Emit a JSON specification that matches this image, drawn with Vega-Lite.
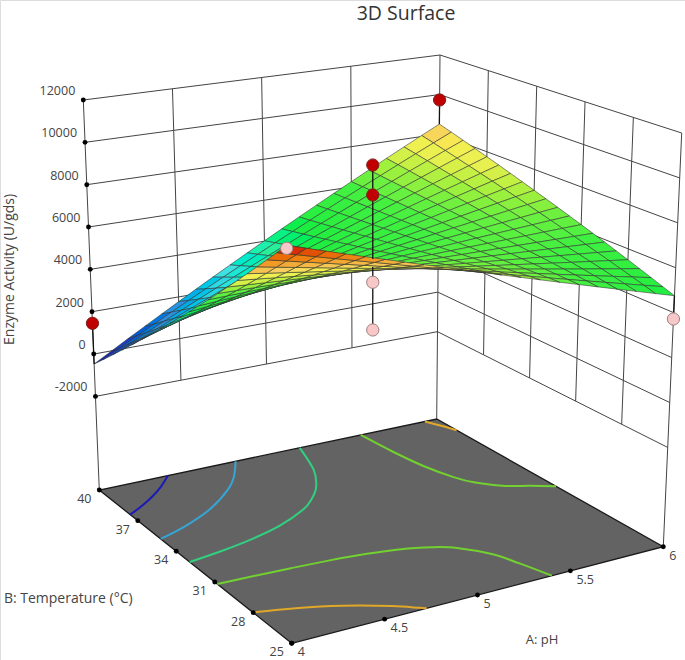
{"$schema":"https://vega.github.io/schema/vega-lite/v6.json","width":685,"height":660,"padding":0,"autosize":{"type":"none"},"background":"white",
"datasets":{"surface":[
{"node":2020,"activity":8507},{"node":2019,"activity":8319},{"node":2018,"activity":8132},{"node":2017,"activity":7944},{"node":2016,"activity":7757},{"node":2015,"activity":7569},{"node":2014,"activity":7381},{"node":2013,"activity":7194},{"node":2012,"activity":7006},{"node":2011,"activity":6819},{"node":2010,"activity":6631},{"node":2009,"activity":6443},{"node":2008,"activity":6256},{"node":2007,"activity":6068},{"node":2006,"activity":5881},{"node":2005,"activity":5693},{"node":2004,"activity":5505},{"node":2003,"activity":5318},{"node":2002,"activity":5130},{"node":2001,"activity":4943},{"node":2000,"activity":4755},
{"node":1920,"activity":8058},{"node":1919,"activity":7907},{"node":1918,"activity":7755},{"node":1917,"activity":7604},{"node":1916,"activity":7452},{"node":1915,"activity":7301},{"node":1914,"activity":7150},{"node":1913,"activity":6998},{"node":1912,"activity":6847},{"node":1911,"activity":6695},{"node":1910,"activity":6544},{"node":1909,"activity":6393},{"node":1908,"activity":6241},{"node":1907,"activity":6090},{"node":1906,"activity":5938},{"node":1905,"activity":5787},{"node":1904,"activity":5636},{"node":1903,"activity":5484},{"node":1902,"activity":5333},{"node":1901,"activity":5181},{"node":1900,"activity":5030},
{"node":1820,"activity":7609},{"node":1819,"activity":7494},{"node":1818,"activity":7379},{"node":1817,"activity":7263},{"node":1816,"activity":7148},{"node":1815,"activity":7033},{"node":1814,"activity":6918},{"node":1813,"activity":6803},{"node":1812,"activity":6687},{"node":1811,"activity":6572},{"node":1810,"activity":6457},{"node":1809,"activity":6342},{"node":1808,"activity":6227},{"node":1807,"activity":6111},{"node":1806,"activity":5996},{"node":1805,"activity":5881},{"node":1804,"activity":5766},{"node":1803,"activity":5651},{"node":1802,"activity":5535},{"node":1801,"activity":5420},{"node":1800,"activity":5305},
{"node":1720,"activity":7161},{"node":1719,"activity":7082},{"node":1718,"activity":7003},{"node":1717,"activity":6924},{"node":1716,"activity":6845},{"node":1715,"activity":6766},{"node":1714,"activity":6686},{"node":1713,"activity":6607},{"node":1712,"activity":6528},{"node":1711,"activity":6449},{"node":1710,"activity":6370},{"node":1709,"activity":6291},{"node":1708,"activity":6212},{"node":1707,"activity":6133},{"node":1706,"activity":6054},{"node":1705,"activity":5975},{"node":1704,"activity":5895},{"node":1703,"activity":5816},{"node":1702,"activity":5737},{"node":1701,"activity":5658},{"node":1700,"activity":5579},
{"node":1620,"activity":6712},{"node":1619,"activity":6669},{"node":1618,"activity":6626},{"node":1617,"activity":6583},{"node":1616,"activity":6540},{"node":1615,"activity":6498},{"node":1614,"activity":6455},{"node":1613,"activity":6412},{"node":1612,"activity":6369},{"node":1611,"activity":6326},{"node":1610,"activity":6283},{"node":1609,"activity":6240},{"node":1608,"activity":6197},{"node":1607,"activity":6154},{"node":1606,"activity":6111},{"node":1605,"activity":6069},{"node":1604,"activity":6026},{"node":1603,"activity":5983},{"node":1602,"activity":5940},{"node":1601,"activity":5897},{"node":1600,"activity":5854},
{"node":1520,"activity":6263},{"node":1519,"activity":6257},{"node":1518,"activity":6250},{"node":1517,"activity":6243},{"node":1516,"activity":6236},{"node":1515,"activity":6230},{"node":1514,"activity":6223},{"node":1513,"activity":6216},{"node":1512,"activity":6210},{"node":1511,"activity":6203},{"node":1510,"activity":6196},{"node":1509,"activity":6190},{"node":1508,"activity":6183},{"node":1507,"activity":6176},{"node":1506,"activity":6169},{"node":1505,"activity":6163},{"node":1504,"activity":6156},{"node":1503,"activity":6149},{"node":1502,"activity":6142},{"node":1501,"activity":6136},{"node":1500,"activity":6129},
{"node":1420,"activity":5814},{"node":1419,"activity":5844},{"node":1418,"activity":5873},{"node":1417,"activity":5903},{"node":1416,"activity":5932},{"node":1415,"activity":5962},{"node":1414,"activity":5991},{"node":1413,"activity":6021},{"node":1412,"activity":6050},{"node":1411,"activity":6080},{"node":1410,"activity":6109},{"node":1409,"activity":6139},{"node":1408,"activity":6168},{"node":1407,"activity":6198},{"node":1406,"activity":6227},{"node":1405,"activity":6257},{"node":1404,"activity":6286},{"node":1403,"activity":6316},{"node":1402,"activity":6345},{"node":1401,"activity":6375},{"node":1400,"activity":6404},
{"node":1320,"activity":5365},{"node":1319,"activity":5430},{"node":1318,"activity":5496},{"node":1317,"activity":5561},{"node":1316,"activity":5627},{"node":1315,"activity":5693},{"node":1314,"activity":5759},{"node":1313,"activity":5824},{"node":1312,"activity":5890},{"node":1311,"activity":5956},{"node":1310,"activity":6022},{"node":1309,"activity":6087},{"node":1308,"activity":6153},{"node":1307,"activity":6218},{"node":1306,"activity":6284},{"node":1305,"activity":6350},{"node":1304,"activity":6416},{"node":1303,"activity":6481},{"node":1302,"activity":6547},{"node":1301,"activity":6613},{"node":1300,"activity":6679},
{"node":1220,"activity":4917},{"node":1219,"activity":5019},{"node":1218,"activity":5121},{"node":1217,"activity":5222},{"node":1216,"activity":5324},{"node":1215,"activity":5426},{"node":1214,"activity":5528},{"node":1213,"activity":5630},{"node":1212,"activity":5731},{"node":1211,"activity":5833},{"node":1210,"activity":5935},{"node":1209,"activity":6037},{"node":1208,"activity":6139},{"node":1207,"activity":6240},{"node":1206,"activity":6342},{"node":1205,"activity":6444},{"node":1204,"activity":6546},{"node":1203,"activity":6648},{"node":1202,"activity":6749},{"node":1201,"activity":6851},{"node":1200,"activity":6953},
{"node":1120,"activity":4468},{"node":1119,"activity":4606},{"node":1118,"activity":4744},{"node":1117,"activity":4882},{"node":1116,"activity":5020},{"node":1115,"activity":5158},{"node":1114,"activity":5296},{"node":1113,"activity":5434},{"node":1112,"activity":5572},{"node":1111,"activity":5710},{"node":1110,"activity":5848},{"node":1109,"activity":5986},{"node":1108,"activity":6124},{"node":1107,"activity":6262},{"node":1106,"activity":6400},{"node":1105,"activity":6538},{"node":1104,"activity":6676},{"node":1103,"activity":6814},{"node":1102,"activity":6952},{"node":1101,"activity":7090},{"node":1100,"activity":7228},
{"node":1020,"activity":4019},{"node":1019,"activity":4193},{"node":1018,"activity":4367},{"node":1017,"activity":4542},{"node":1016,"activity":4716},{"node":1015,"activity":4890},{"node":1014,"activity":5064},{"node":1013,"activity":5238},{"node":1012,"activity":5413},{"node":1011,"activity":5587},{"node":1010,"activity":5761},{"node":1009,"activity":5935},{"node":1008,"activity":6109},{"node":1007,"activity":6284},{"node":1006,"activity":6458},{"node":1005,"activity":6632},{"node":1004,"activity":6806},{"node":1003,"activity":6980},{"node":1002,"activity":7155},{"node":1001,"activity":7329},{"node":1000,"activity":7503},
{"node":920,"activity":3570},{"node":919,"activity":3780},{"node":918,"activity":3991},{"node":917,"activity":4201},{"node":916,"activity":4412},{"node":915,"activity":4622},{"node":914,"activity":4832},{"node":913,"activity":5043},{"node":912,"activity":5253},{"node":911,"activity":5464},{"node":910,"activity":5674},{"node":909,"activity":5884},{"node":908,"activity":6095},{"node":907,"activity":6305},{"node":906,"activity":6516},{"node":905,"activity":6726},{"node":904,"activity":6936},{"node":903,"activity":7147},{"node":902,"activity":7357},{"node":901,"activity":7568},{"node":900,"activity":7778},
{"node":820,"activity":3121},{"node":819,"activity":3368},{"node":818,"activity":3614},{"node":817,"activity":3861},{"node":816,"activity":4107},{"node":815,"activity":4354},{"node":814,"activity":4601},{"node":813,"activity":4847},{"node":812,"activity":5094},{"node":811,"activity":5340},{"node":810,"activity":5587},{"node":809,"activity":5834},{"node":808,"activity":6080},{"node":807,"activity":6327},{"node":806,"activity":6573},{"node":805,"activity":6820},{"node":804,"activity":7067},{"node":803,"activity":7313},{"node":802,"activity":7560},{"node":801,"activity":7806},{"node":800,"activity":8053},
{"node":720,"activity":2673},{"node":719,"activity":2956},{"node":718,"activity":3239},{"node":717,"activity":3521},{"node":716,"activity":3804},{"node":715,"activity":4087},{"node":714,"activity":4369},{"node":713,"activity":4652},{"node":712,"activity":4935},{"node":711,"activity":5217},{"node":710,"activity":5500},{"node":709,"activity":5783},{"node":708,"activity":6066},{"node":707,"activity":6348},{"node":706,"activity":6631},{"node":705,"activity":6914},{"node":704,"activity":7196},{"node":703,"activity":7479},{"node":702,"activity":7762},{"node":701,"activity":8044},{"node":700,"activity":8327},
{"node":620,"activity":2224},{"node":619,"activity":2543},{"node":618,"activity":2862},{"node":617,"activity":3181},{"node":616,"activity":3500},{"node":615,"activity":3819},{"node":614,"activity":4137},{"node":613,"activity":4456},{"node":612,"activity":4775},{"node":611,"activity":5094},{"node":610,"activity":5413},{"node":609,"activity":5732},{"node":608,"activity":6051},{"node":607,"activity":6370},{"node":606,"activity":6689},{"node":605,"activity":7008},{"node":604,"activity":7326},{"node":603,"activity":7645},{"node":602,"activity":7964},{"node":601,"activity":8283},{"node":600,"activity":8602},
{"node":520,"activity":1775},{"node":519,"activity":2130},{"node":518,"activity":2485},{"node":517,"activity":2840},{"node":516,"activity":3195},{"node":515,"activity":3551},{"node":514,"activity":3906},{"node":513,"activity":4261},{"node":512,"activity":4616},{"node":511,"activity":4971},{"node":510,"activity":5326},{"node":509,"activity":5681},{"node":508,"activity":6036},{"node":507,"activity":6391},{"node":506,"activity":6746},{"node":505,"activity":7102},{"node":504,"activity":7457},{"node":503,"activity":7812},{"node":502,"activity":8167},{"node":501,"activity":8522},{"node":500,"activity":8877},
{"node":420,"activity":1326},{"node":419,"activity":1718},{"node":418,"activity":2109},{"node":417,"activity":2500},{"node":416,"activity":2891},{"node":415,"activity":3283},{"node":414,"activity":3674},{"node":413,"activity":4065},{"node":412,"activity":4457},{"node":411,"activity":4848},{"node":410,"activity":5239},{"node":409,"activity":5630},{"node":408,"activity":6022},{"node":407,"activity":6413},{"node":406,"activity":6804},{"node":405,"activity":7196},{"node":404,"activity":7587},{"node":403,"activity":7978},{"node":402,"activity":8369},{"node":401,"activity":8761},{"node":400,"activity":9152},
{"node":320,"activity":877},{"node":319,"activity":1305},{"node":318,"activity":1732},{"node":317,"activity":2160},{"node":316,"activity":2587},{"node":315,"activity":3015},{"node":314,"activity":3442},{"node":313,"activity":3870},{"node":312,"activity":4297},{"node":311,"activity":4725},{"node":310,"activity":5152},{"node":309,"activity":5579},{"node":308,"activity":6007},{"node":307,"activity":6434},{"node":306,"activity":6862},{"node":305,"activity":7289},{"node":304,"activity":7717},{"node":303,"activity":8144},{"node":302,"activity":8572},{"node":301,"activity":8999},{"node":300,"activity":9427},
{"node":220,"activity":429},{"node":219,"activity":893},{"node":218,"activity":1356},{"node":217,"activity":1820},{"node":216,"activity":2283},{"node":215,"activity":2747},{"node":214,"activity":3211},{"node":213,"activity":3674},{"node":212,"activity":4138},{"node":211,"activity":4601},{"node":210,"activity":5065},{"node":209,"activity":5529},{"node":208,"activity":5992},{"node":207,"activity":6456},{"node":206,"activity":6919},{"node":205,"activity":7383},{"node":204,"activity":7847},{"node":203,"activity":8310},{"node":202,"activity":8774},{"node":201,"activity":9237},{"node":200,"activity":9701},
{"node":120,"activity":-20},{"node":119,"activity":480},{"node":118,"activity":979},{"node":117,"activity":1479},{"node":116,"activity":1979},{"node":115,"activity":2479},{"node":114,"activity":2979},{"node":113,"activity":3479},{"node":112,"activity":3978},{"node":111,"activity":4478},{"node":110,"activity":4978},{"node":109,"activity":5478},{"node":108,"activity":5977},{"node":107,"activity":6477},{"node":106,"activity":6977},{"node":105,"activity":7477},{"node":104,"activity":7977},{"node":103,"activity":8477},{"node":102,"activity":8976},{"node":101,"activity":9476},{"node":100,"activity":9976},
{"node":20,"activity":-469},{"node":19,"activity":67},{"node":18,"activity":603},{"node":17,"activity":1139},{"node":16,"activity":1675},{"node":15,"activity":2211},{"node":14,"activity":2747},{"node":13,"activity":3283},{"node":12,"activity":3819},{"node":11,"activity":4355},{"node":10,"activity":4891},{"node":9,"activity":5427},{"node":8,"activity":5963},{"node":7,"activity":6499},{"node":6,"activity":7035},{"node":5,"activity":7571},{"node":4,"activity":8107},{"node":3,"activity":8643},{"node":2,"activity":9179},{"node":1,"activity":9715},{"node":0,"activity":10251}
]},
"data":{"values":[
{"kind":"floor","pH":4,"temp":25,"activity":-6421},{"kind":"floor","pH":6,"temp":25,"activity":-6421},{"kind":"floor","pH":6,"temp":40,"activity":-6421},{"kind":"floor","pH":4,"temp":40,"activity":-6421},{"kind":"floor","pH":4,"temp":25,"activity":-6421},
{"kind":"contour","line":"blue","level":"1250","pH":4,"temp":37.59,"activity":-6421},{"kind":"contour","line":"blue","level":"1250","pH":4.1,"temp":38.05,"activity":-6421},{"kind":"contour","line":"blue","level":"1250","pH":4.2,"temp":38.58,"activity":-6421},{"kind":"contour","line":"blue","level":"1250","pH":4.3,"temp":39.2,"activity":-6421},{"kind":"contour","line":"blue","level":"1250","pH":4.407,"temp":40,"activity":-6421},
{"kind":"contour","line":"cyan","level":"3000","pH":4,"temp":35.21,"activity":-6421},{"kind":"contour","line":"cyan","level":"3000","pH":4.2,"temp":35.83,"activity":-6421},{"kind":"contour","line":"cyan","level":"3000","pH":4.4,"temp":36.69,"activity":-6421},{"kind":"contour","line":"cyan","level":"3000","pH":4.6,"temp":37.93,"activity":-6421},{"kind":"contour","line":"cyan","level":"3000","pH":4.7,"temp":38.79,"activity":-6421},{"kind":"contour","line":"cyan","level":"3000","pH":4.808,"temp":40,"activity":-6421},
{"kind":"contour","line":"teal","level":"4700","pH":4,"temp":32.95,"activity":-6421},{"kind":"contour","line":"teal","level":"4700","pH":4.2,"temp":33.22,"activity":-6421},{"kind":"contour","line":"teal","level":"4700","pH":4.4,"temp":33.59,"activity":-6421},{"kind":"contour","line":"teal","level":"4700","pH":4.6,"temp":34.13,"activity":-6421},{"kind":"contour","line":"teal","level":"4700","pH":4.8,"temp":34.98,"activity":-6421},{"kind":"contour","line":"teal","level":"4700","pH":4.9,"temp":35.64,"activity":-6421},{"kind":"contour","line":"teal","level":"4700","pH":5,"temp":36.55,"activity":-6421},{"kind":"contour","line":"teal","level":"4700","pH":5.1,"temp":37.95,"activity":-6421},{"kind":"contour","line":"teal","level":"4700","pH":5.188,"temp":40,"activity":-6421},
{"kind":"contour","line":"limeLow","level":"6430","pH":4,"temp":30.8,"activity":-6421},{"kind":"contour","line":"limeLow","level":"6430","pH":4.2,"temp":30.74,"activity":-6421},{"kind":"contour","line":"limeLow","level":"6430","pH":4.4,"temp":30.65,"activity":-6421},{"kind":"contour","line":"limeLow","level":"6430","pH":4.6,"temp":30.53,"activity":-6421},{"kind":"contour","line":"limeLow","level":"6430","pH":4.8,"temp":30.33,"activity":-6421},{"kind":"contour","line":"limeLow","level":"6430","pH":5,"temp":29.97,"activity":-6421},{"kind":"contour","line":"limeLow","level":"6430","pH":5.1,"temp":29.63,"activity":-6421},{"kind":"contour","line":"limeLow","level":"6430","pH":5.2,"temp":29.07,"activity":-6421},{"kind":"contour","line":"limeLow","level":"6430","pH":5.3,"temp":27.9,"activity":-6421},{"kind":"contour","line":"limeLow","level":"6430","pH":5.35,"temp":26.65,"activity":-6421},{"kind":"contour","line":"limeLow","level":"6430","pH":5.4,"temp":25,"activity":-6421},
{"kind":"contour","line":"limeHigh","level":"6430","pH":5.55,"temp":40,"activity":-6421},{"kind":"contour","line":"limeHigh","level":"6430","pH":5.57,"temp":38.03,"activity":-6421},{"kind":"contour","line":"limeHigh","level":"6430","pH":5.6,"temp":36.3,"activity":-6421},{"kind":"contour","line":"limeHigh","level":"6430","pH":5.65,"temp":34.79,"activity":-6421},{"kind":"contour","line":"limeHigh","level":"6430","pH":5.7,"temp":33.97,"activity":-6421},{"kind":"contour","line":"limeHigh","level":"6430","pH":5.8,"temp":33.11,"activity":-6421},{"kind":"contour","line":"limeHigh","level":"6430","pH":5.9,"temp":32.65,"activity":-6421},{"kind":"contour","line":"limeHigh","level":"6430","pH":6,"temp":32.1,"activity":-6421},
{"kind":"contour","line":"orangeLow","level":"8180","pH":4,"temp":28.02,"activity":-6421},{"kind":"contour","line":"orangeLow","level":"8180","pH":4.2,"temp":27.53,"activity":-6421},{"kind":"contour","line":"orangeLow","level":"8180","pH":4.4,"temp":26.84,"activity":-6421},{"kind":"contour","line":"orangeLow","level":"8180","pH":4.6,"temp":25.85,"activity":-6421},{"kind":"contour","line":"orangeLow","level":"8180","pH":4.7,"temp":25.17,"activity":-6421},{"kind":"contour","line":"orangeLow","level":"8180","pH":4.726,"temp":25,"activity":-6421},
{"kind":"contour","line":"orangeHigh","level":"8180","pH":5.93,"temp":40,"activity":-6421},{"kind":"contour","line":"orangeHigh","level":"8180","pH":5.97,"temp":39.3,"activity":-6421},{"kind":"contour","line":"orangeHigh","level":"8180","pH":6,"temp":38.68,"activity":-6421},
{"kind":"grid","line":"h12000","pH":4,"temp":40,"activity":12000},{"kind":"grid","line":"h12000","pH":6,"temp":40,"activity":12000},{"kind":"grid","line":"h12000","pH":6,"temp":25,"activity":12000},
{"kind":"grid","line":"h10000","pH":4,"temp":40,"activity":10000},{"kind":"grid","line":"h10000","pH":6,"temp":40,"activity":10000},{"kind":"grid","line":"h10000","pH":6,"temp":25,"activity":10000},
{"kind":"grid","line":"h8000","pH":4,"temp":40,"activity":8000},{"kind":"grid","line":"h8000","pH":6,"temp":40,"activity":8000},{"kind":"grid","line":"h8000","pH":6,"temp":25,"activity":8000},
{"kind":"grid","line":"h6000","pH":4,"temp":40,"activity":6000},{"kind":"grid","line":"h6000","pH":6,"temp":40,"activity":6000},{"kind":"grid","line":"h6000","pH":6,"temp":25,"activity":6000},
{"kind":"grid","line":"h4000","pH":4,"temp":40,"activity":4000},{"kind":"grid","line":"h4000","pH":6,"temp":40,"activity":4000},{"kind":"grid","line":"h4000","pH":6,"temp":25,"activity":4000},
{"kind":"grid","line":"h2000","pH":4,"temp":40,"activity":2000},{"kind":"grid","line":"h2000","pH":6,"temp":40,"activity":2000},{"kind":"grid","line":"h2000","pH":6,"temp":25,"activity":2000},
{"kind":"grid","line":"h0","pH":4,"temp":40,"activity":0},{"kind":"grid","line":"h0","pH":6,"temp":40,"activity":0},{"kind":"grid","line":"h0","pH":6,"temp":25,"activity":0},
{"kind":"grid","line":"hm2000","pH":4,"temp":40,"activity":-2000},{"kind":"grid","line":"hm2000","pH":6,"temp":40,"activity":-2000},{"kind":"grid","line":"hm2000","pH":6,"temp":25,"activity":-2000},
{"kind":"grid","line":"v45","pH":4.5,"temp":40,"activity":-2000},{"kind":"grid","line":"v45","pH":4.5,"temp":40,"activity":12000},
{"kind":"grid","line":"v5","pH":5,"temp":40,"activity":-2000},{"kind":"grid","line":"v5","pH":5,"temp":40,"activity":12000},
{"kind":"grid","line":"v55","pH":5.5,"temp":40,"activity":-2000},{"kind":"grid","line":"v55","pH":5.5,"temp":40,"activity":12000},
{"kind":"grid","line":"t28","pH":6,"temp":28,"activity":-2000},{"kind":"grid","line":"t28","pH":6,"temp":28,"activity":12000},
{"kind":"grid","line":"t31","pH":6,"temp":31,"activity":-2000},{"kind":"grid","line":"t31","pH":6,"temp":31,"activity":12000},
{"kind":"grid","line":"t34","pH":6,"temp":34,"activity":-2000},{"kind":"grid","line":"t34","pH":6,"temp":34,"activity":12000},
{"kind":"grid","line":"t37","pH":6,"temp":37,"activity":-2000},{"kind":"grid","line":"t37","pH":6,"temp":37,"activity":12000},
{"kind":"grid","line":"cl","pH":4,"temp":40,"activity":-6421},{"kind":"grid","line":"cl","pH":4,"temp":40,"activity":12000},
{"kind":"grid","line":"cb","pH":6,"temp":40,"activity":-6421},{"kind":"grid","line":"cb","pH":6,"temp":40,"activity":12000},
{"kind":"grid","line":"cr","pH":6,"temp":25,"activity":-6421},{"kind":"grid","line":"cr","pH":6,"temp":25,"activity":12000},
{"kind":"drop","line":"d1","pH":6,"temp":40,"activity":9723},{"kind":"drop","line":"d1","pH":6,"temp":40,"activity":8507},
{"kind":"drop","line":"d2","pH":5,"temp":32.5,"activity":10070},{"kind":"drop","line":"d2","pH":5,"temp":32.5,"activity":5761},
{"kind":"drop","line":"d3","pH":5,"temp":32.5,"activity":5394},{"kind":"drop","line":"d3","pH":5,"temp":32.5,"activity":2508},
{"kind":"drop","line":"d4","pH":4,"temp":40,"activity":1453},{"kind":"drop","line":"d4","pH":4,"temp":40,"activity":-469},
{"kind":"drop","line":"d5","pH":6,"temp":25,"activity":4755},{"kind":"drop","line":"d5","pH":6,"temp":25,"activity":3718},
{"kind":"above","pH":6,"temp":40,"activity":9723},{"kind":"above","pH":5,"temp":32.5,"activity":10070},{"kind":"above","pH":5,"temp":32.5,"activity":8695},{"kind":"above","pH":4,"temp":40,"activity":1453},
{"kind":"below","pH":5,"temp":32.5,"activity":4694},{"kind":"below","pH":5,"temp":32.5,"activity":2508},{"kind":"below","pH":4,"temp":25,"activity":10127},{"kind":"below","pH":6,"temp":25,"activity":3718},
{"kind":"zlabel","label":"12000","pH":4,"temp":40,"activity":12000},{"kind":"zlabel","label":"10000","pH":4,"temp":40,"activity":10000},{"kind":"zlabel","label":"8000","pH":4,"temp":40,"activity":8000},{"kind":"zlabel","label":"6000","pH":4,"temp":40,"activity":6000},{"kind":"zlabel","label":"4000","pH":4,"temp":40,"activity":4000},{"kind":"zlabel","label":"2000","pH":4,"temp":40,"activity":2000},{"kind":"zlabel","label":"0","pH":4,"temp":40,"activity":0},{"kind":"zlabel","label":"-2000","pH":4,"temp":40,"activity":-2000},
{"kind":"tlabel","label":"25","pH":4,"temp":25,"activity":-6421},{"kind":"tlabel","label":"28","pH":4,"temp":28,"activity":-6421},{"kind":"tlabel","label":"31","pH":4,"temp":31,"activity":-6421},{"kind":"tlabel","label":"34","pH":4,"temp":34,"activity":-6421},{"kind":"tlabel","label":"37","pH":4,"temp":37,"activity":-6421},{"kind":"tlabel","label":"40","pH":4,"temp":40,"activity":-6421},
{"kind":"plabel","label":"4","pH":4,"temp":25,"activity":-6421},{"kind":"plabel","label":"4.5","pH":4.5,"temp":25,"activity":-6421},{"kind":"plabel","label":"5","pH":5,"temp":25,"activity":-6421},{"kind":"plabel","label":"5.5","pH":5.5,"temp":25,"activity":-6421},{"kind":"plabel","label":"6","pH":6,"temp":25,"activity":-6421},
{"kind":"titleMain","label":"3D Surface","pH":6,"temp":40,"activity":12000},
{"kind":"titleA","label":"A: pH","pH":5.25,"temp":25,"activity":-6421},
{"kind":"titleB","label":"B: Temperature (°C)","pH":4,"temp":34,"activity":-6421},
{"kind":"titleZ","label":"Enzyme Activity (U/gds)","pH":4,"temp":40,"activity":4000}
]},
"transform":[
{"window":[{"op":"row_number","as":"seq"}]},
{"calculate":"(datum.pH-4)/2","as":"a"},{"calculate":"(datum.temp-25)/15","as":"b"},{"calculate":"(datum.activity+6421)/18421","as":"z"},
{"calculate":"291.7+371.6*datum.a-192.4*datum.b-34.2*datum.a*datum.b+datum.z*(-5.6+24*datum.a-10.4*datum.b-4.7*datum.a*datum.b)","as":"sx"},
{"calculate":"643.3-96.6*datum.a-153.3*datum.b+25.6*datum.a*datum.b+datum.z*(-439.7+26*datum.a+49.7*datum.b)","as":"sy"}
],
"encoding":{"x":{"field":"sx","type":"quantitative","scale":{"domain":[0,685],"nice":false,"zero":false},"axis":null},"y":{"field":"sy","type":"quantitative","scale":{"domain":[660,0],"nice":false,"zero":false},"axis":null}},
"layer":[
{"transform":[{"filter":"datum.kind==='floor'"}],"mark":{"type":"line","fill":"#636363","stroke":"#1a1a1a","strokeWidth":1.3},"encoding":{"order":{"field":"seq","type":"quantitative"}}},
{"transform":[{"filter":"datum.kind==='contour'"}],"mark":{"type":"line","strokeWidth":2,"interpolate":"cardinal"},"encoding":{"order":{"field":"seq","type":"quantitative"},"detail":{"field":"line"},"stroke":{"field":"level","type":"nominal","legend":null,"scale":{"domain":["1250","3000","4700","6430","8180"],"range":["#1a1ab8","#35a5d5","#30d080","#72d030","#e0a828"]}}}},
{"transform":[{"filter":"datum.kind==='grid'"}],"mark":{"type":"line","stroke":"#444444","strokeWidth":1},"encoding":{"order":{"field":"seq","type":"quantitative"},"detail":{"field":"line"}}},
{"data":{"name":"surface"},"transform":[
{"filter":"floor(datum.node/100)<20 && datum.node%100<20"},
{"calculate":"[0,1,2,3,4]","as":"corner"},{"flatten":["corner"]},
{"calculate":"datum.node+((datum.corner===1||datum.corner===2)?100:0)+((datum.corner===2||datum.corner===3)?1:0)","as":"cornerNode"},
{"lookup":"cornerNode","from":{"data":{"name":"surface"},"key":"node","fields":["activity"]},"as":["cornerActivity"]},
{"joinaggregate":[{"op":"mean","field":"cornerActivity","as":"cellActivity"}],"groupby":["node"]},
{"calculate":"floor(datum.cornerNode/100)/20","as":"a"},{"calculate":"(datum.cornerNode%100)/20","as":"b"},{"calculate":"(datum.cornerActivity+6421)/18421","as":"z"},
{"calculate":"291.7+371.6*datum.a-192.4*datum.b-34.2*datum.a*datum.b+datum.z*(-5.6+24*datum.a-10.4*datum.b-4.7*datum.a*datum.b)","as":"sx"},
{"calculate":"643.3-96.6*datum.a-153.3*datum.b+25.6*datum.a*datum.b+datum.z*(-439.7+26*datum.a+49.7*datum.b)","as":"sy"}
],"mark":{"type":"line","stroke":"#303030","strokeWidth":0.7,"strokeOpacity":0.8},"encoding":{"order":{"field":"corner"},"detail":{"field":"node"},"fill":{"field":"cellActivity","type":"quantitative","legend":null,"scale":{"domain":[-469,500,1700,3000,4000,4800,6000,6500,7000,7500,7900,8200,9200,10000],"range":["#101090","#1840d0","#3090e0","#40e0e0","#30f0a0","#18ee40","#40f040","#70f040","#b0f040","#e8f050","#f4f050","#f8d060","#ee8010","#d82008"]}}}},
{"transform":[{"filter":"datum.kind==='drop'"}],"mark":{"type":"line","stroke":"#111111","strokeWidth":1.3},"encoding":{"order":{"field":"seq","type":"quantitative"},"detail":{"field":"line"}}},
{"transform":[{"filter":"datum.kind==='zlabel'||datum.kind==='tlabel'||datum.kind==='plabel'"}],"mark":{"type":"circle","size":24,"opacity":1,"color":"#000000"}},
{"transform":[{"filter":"datum.kind==='above'"}],"mark":{"type":"circle","size":150,"opacity":1,"fill":"#c00000","stroke":"#7a2020","strokeWidth":1}},
{"transform":[{"filter":"datum.kind==='below'"}],"mark":{"type":"circle","size":150,"opacity":1,"fill":"#f8c8c8","stroke":"#a08080","strokeWidth":1}},
{"transform":[{"filter":"datum.kind==='zlabel'"}],"mark":{"type":"text","align":"right","dx":-8,"dy":-9,"font":"Open Sans","fontSize":12.5,"fill":"#444444"},"encoding":{"text":{"field":"label"}}},
{"transform":[{"filter":"datum.kind==='tlabel'"}],"mark":{"type":"text","align":"center","dx":-15,"dy":9,"font":"Open Sans","fontSize":12.5,"fill":"#444444"},"encoding":{"text":{"field":"label"}}},
{"transform":[{"filter":"datum.kind==='plabel'"}],"mark":{"type":"text","align":"left","dx":6,"dy":9,"font":"Open Sans","fontSize":12.5,"fill":"#444444"},"encoding":{"text":{"field":"label"}}},
{"transform":[{"filter":"datum.kind==='titleMain'"}],"mark":{"type":"text","align":"center","dx":-34,"dy":-41,"font":"Open Sans","fontSize":19.5,"fill":"#333333"},"encoding":{"text":{"field":"label"}}},
{"transform":[{"filter":"datum.kind==='titleA'"}],"mark":{"type":"text","align":"center","dx":18,"dy":57,"font":"Open Sans","fontSize":13,"fill":"#444444"},"encoding":{"text":{"field":"label"}}},
{"transform":[{"filter":"datum.kind==='titleB'"}],"mark":{"type":"text","align":"center","dx":-108,"dy":48,"font":"Open Sans","fontSize":14,"fill":"#444444"},"encoding":{"text":{"field":"label"}}},
{"transform":[{"filter":"datum.kind==='titleZ'"}],"mark":{"type":"text","align":"center","angle":270,"dx":0,"dy":-80,"font":"Open Sans","fontSize":14,"fill":"#444444"},"encoding":{"text":{"field":"label"}}}
]}
